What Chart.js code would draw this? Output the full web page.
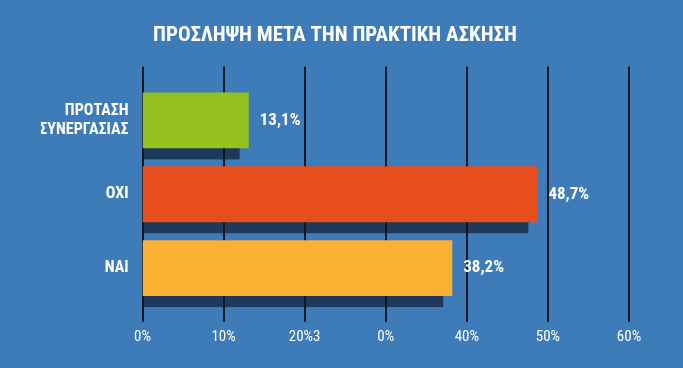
<!DOCTYPE html>
<html>
<head>
<meta charset="utf-8">
<script src="https://cdn.jsdelivr.net/npm/chart.js@4"></script>
<style>
  html, body { margin: 0; padding: 0; background: #3d7bb9; }
  canvas { display: block; }
</style>
</head>
<body>
<canvas id="c" width="683" height="368"></canvas>
<script>
const titleText = 'ΠΡΟΣΛΗΨΗ ΜΕΤΑ ΤΗΝ ΠΡΑΚΤΙΚΗ ΑΣΚΗΣΗ';
const categories = [['ΠΡΟΤΑΣΗ', 'ΣΥΝΕΡΓΑΣΙΑΣ'], 'ΟΧΙ', 'ΝΑΙ'];
const values = [13.1, 48.7, 38.2];
const barColors = ['#95c11f', '#e84e1b', '#f8b133'];
const tickLabels = ['0%', '10%', '20%3', '0%', '40%', '50%', '60%'];

const FONT = "'Roboto Condensed', 'Liberation Sans Narrow', 'DejaVu Sans Condensed', Roboto, sans-serif";
const BG = '#3d7bb9';
const SHADOW = '#1e3a5b';
const GRID = '#0b1826';

const bgPlugin = {
  id: 'bg',
  beforeDraw(chart) {
    const ctx = chart.ctx;
    ctx.save();
    ctx.fillStyle = BG;
    ctx.fillRect(0, 0, chart.width, chart.height);
    ctx.restore();
  }
};

const gridAndShadow = {
  id: 'gridAndShadow',
  beforeDatasetsDraw(chart) {
    const ctx = chart.ctx;
    const xs = chart.scales.x;
    const area = chart.chartArea;
    ctx.save();
    const meta = chart.getDatasetMeta(0);
    ctx.fillStyle = SHADOW;
    meta.data.forEach(bar => {
      const p = bar.getProps(['x', 'y', 'base', 'height'], true);
      ctx.fillRect(p.base, p.y - p.height / 2 + 11, (p.x - 9) - p.base, p.height);
    });
    ctx.strokeStyle = GRID;
    ctx.lineWidth = 2;
    xs.ticks.forEach(t => {
      const x = Math.round(xs.getPixelForValue(t.value));
      ctx.beginPath();
      ctx.moveTo(x, area.top - 17);
      ctx.lineTo(x, area.bottom + 17);
      ctx.stroke();
    });
    ctx.restore();
  },
  afterDatasetsDraw(chart) {
    const ctx = chart.ctx;
    const meta = chart.getDatasetMeta(0);
    ctx.save();
    ctx.fillStyle = '#ffffff';
    ctx.font = 'bold 17px ' + FONT;
    ctx.textAlign = 'left';
    ctx.textBaseline = 'middle';
    meta.data.forEach((bar, i) => {
      const p = bar.getProps(['x', 'y'], true);
      ctx.fillText(values[i].toFixed(1).replace('.', ',') + '%', p.x + 11, p.y);
    });
    ctx.restore();
  }
};

new Chart(document.getElementById('c'), {
  type: 'bar',
  data: {
    labels: categories,
    datasets: [{
      data: values,
      backgroundColor: barColors,
      borderWidth: 0,
      categoryPercentage: 1,
      barPercentage: 0.757
    }]
  },
  options: {
    indexAxis: 'y',
    responsive: false,
    devicePixelRatio: 1,
    animation: false,
    layout: { padding: { left: 41, right: 54, top: 0, bottom: 0 } },
    plugins: {
      legend: { display: false },
      tooltip: { enabled: false },
      title: {
        display: true,
        text: titleText,
        color: '#ffffff',
        font: { family: FONT, size: 21, weight: 'bold', lineHeight: 1.2 },
        padding: { top: 23, bottom: 35.3 }
      }
    },
    scales: {
      x: {
        min: 0,
        max: 60,
        grid: { display: false, drawTicks: false },
        border: { display: false },
        ticks: {
          stepSize: 10,
          color: '#ffffff',
          padding: 23,
          font: { family: FONT, size: 15 },
          maxRotation: 0,
          callback: (v, i) => tickLabels[i]
        },
        afterFit: s => { s.height = 63; }
      },
      y: {
        grid: { display: false, drawTicks: false },
        border: { display: false },
        ticks: {
          color: '#ffffff',
          padding: 14,
          font: { family: FONT, size: 16, weight: 'bold', lineHeight: 1.2 }
        },
        afterFit: s => { s.width = 101.5; }
      }
    }
  },
  plugins: [bgPlugin, gridAndShadow]
});
</script>
</body>
</html>
